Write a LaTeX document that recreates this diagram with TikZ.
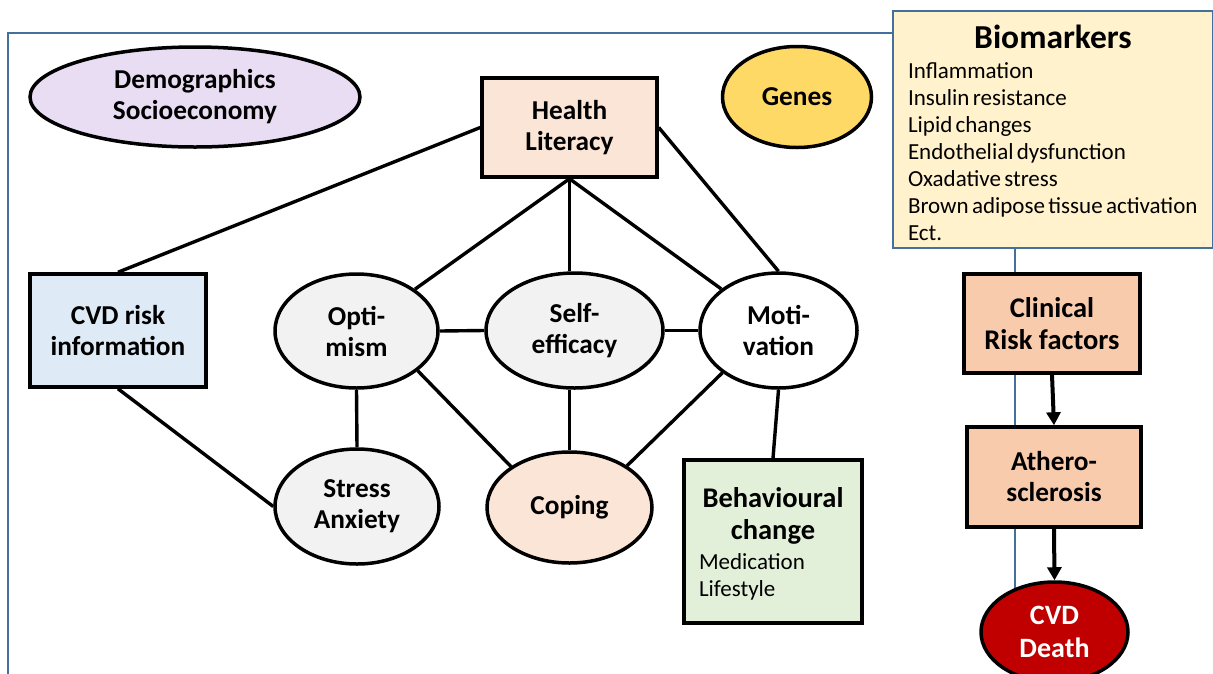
\documentclass[tikz,border=0pt]{standalone}
\usepackage{fontspec}
\setmainfont{Carlito}
\usetikzlibrary{
    shapes,
    arrows.meta,
    positioning
}
\definecolor{frameblue}{HTML}{41719C}
\definecolor{demofill}{HTML}{E9DDF3}
\definecolor{peachfill}{HTML}{FBE5D6}
\definecolor{genefill}{HTML}{FFD966}
\definecolor{biofill}{HTML}{FFF2CC}
\definecolor{riskfill}{HTML}{DEEBF7}
\definecolor{greyfill}{HTML}{F2F2F2}
\definecolor{behavfill}{HTML}{E2F0D9}
\definecolor{clinfill}{HTML}{F8CBAD}
\definecolor{deathfill}{HTML}{C00000}
\newcommand{\bfnode}{\fontsize{27.3}{31}\selectfont\bfseries}
\newcommand{\bfbig}{\fontsize{28.5}{32}\selectfont\bfseries}
\newcommand{\listtxt}{\fontsize{23}{27}\selectfont\mdseries}
\newcommand{\headtxt}{\fontsize{33.5}{38}\selectfont\bfseries}

\begin{document}
\begin{tikzpicture}[x=1pt, y=-1pt,
        box/.style={draw, line width=3.5pt, rectangle, align=center, font=\bfnode},
        oval/.style={draw, line width=3.5pt, ellipse, align=center, inner sep=0pt, font=\bfnode},
        link/.style={line width=3.4pt},
        flow/.style={line width=4pt, -{Triangle[length=13pt, width=14pt]}}]
                        \useasboundingbox (0, 0) rectangle (1213, 673);
                        \clip (0, 0) rectangle (1213, 673);

                        \draw[frameblue, line width=2.2pt] (8, 33) rectangle (1015, 720);

                        \node[oval, fill=demofill, minimum width=330, minimum height=100] (demo) at (195, 97) {Demographics\\Socioeconomy};
                        \node[box, fill=peachfill, minimum width=175, minimum height=99] (hl) at (569.5, 127.5) {Health\\Literacy};
                        \node[oval, fill=genefill, minimum width=149, minimum height=101] (genes) at (797, 97) {Genes};
                        \node[draw=frameblue, line width=2.2pt, fill=biofill, minimum width=320, minimum height=237,
                            text width=304, inner xsep=8, align=left] (bio) at (1053, 129.5)
                            {{\centering\headtxt\rule{0pt}{31pt}Biomarkers\par}\vspace{3pt}\listtxt\leftskip=7pt
                             Inflammation\\Insulin resistance\\Lipid changes\\Endothelial dysfunction\\Oxadative stress\\Brown adipose tissue activation\\Ect.\par};

                        \node[box, fill=riskfill, minimum width=176, minimum height=113] (cvd) at (118, 330.5) {CVD risk\\information};
                        \node[oval, fill=greyfill, minimum width=163, minimum height=114] (opt) at (356.5, 331) {Opti-\\mism};
                        \node[oval, fill=greyfill, minimum width=177, minimum height=115] (self) at (574.5, 330.5) {Self-\\efficacy};
                        \node[oval, fill=white, minimum width=157, minimum height=115] (moti) at (778.5, 330.5) {Moti-\\vation};
                        \node[oval, fill=greyfill, minimum width=164, minimum height=115] (stress) at (357, 506.5) {Stress\\Anxiety};
                        \node[oval, fill=peachfill, minimum width=165, minimum height=111] (coping) at (569.5, 507.5) {Coping};
                        \node[box, fill=behavfill, minimum width=178, minimum height=163,
                            text width=152, inner xsep=13, align=left] (behav) at (773, 541.5)
                            {{\centering\bfbig\rule{0pt}{24pt}Behavioural\\change\par}\vspace{3pt}\listtxt\leftskip=2pt Medication\\Lifestyle\par};

                        \node[box, fill=clinfill, minimum width=176, minimum height=99, font=\bfbig] (clin) at (1052, 323.5) {Clinical\\Risk factors};
                        \node[box, fill=clinfill, minimum width=174, minimum height=100] (athero) at (1054, 477) {Athero-\\sclerosis};
                        \node[oval, fill=deathfill, text=white, minimum width=147, minimum height=100,
                            font=\fontsize{28}{31}\selectfont\bfseries] (death) at (1054.5, 632) {CVD\\[2pt]Death};

                        \draw[link]
                        (hl.west) edge (cvd.north)
                        (hl.south) edge (opt)
                        (hl.south) edge (hl.south |- self.north)
                        (hl.south) edge (moti)
                        (hl.east) edge (moti.north)
                        (opt.east) edge (self.west)
                        (self.east) edge (moti.west)
                        (opt.south) edge (stress.north)
                        (opt.-33) edge (coping.145)
                        (coping.north |- self.south) edge (coping.north)
                        (moti.-143) edge (coping.36)
                        (moti.south) edge (behav.north)
                        (cvd.south) edge (stress.west);

                        \draw[flow] (clin.south) -- (athero.north);
                        \draw[flow] (athero.south) -- (death.north);
\end{tikzpicture}
\end{document}
